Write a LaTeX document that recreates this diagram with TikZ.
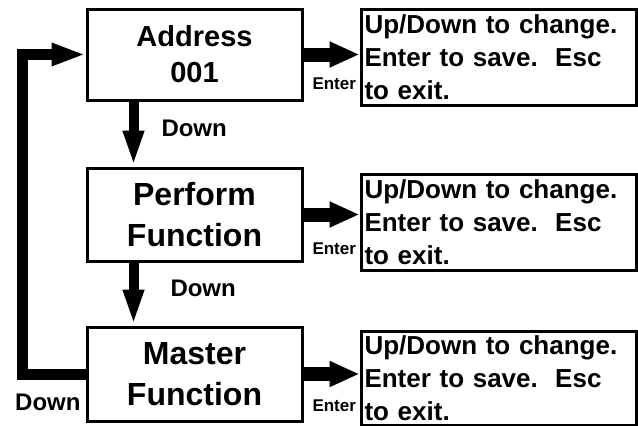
\documentclass[tikz,border=0pt]{standalone}
\usepackage{fontspec}
\setmainfont{Liberation Sans}
\usetikzlibrary{arrows.meta,positioning}

\begin{document}
\begin{tikzpicture}[x=1pt,y=-1pt,
    menubox/.style={draw,line width=3pt,minimum width=215pt,align=center,inner sep=0pt,
        font=\bfseries\fontsize{32}{41}\selectfont},
    hintbox/.style={draw,line width=3pt,minimum width=275pt,text width=268pt,align=left,
        inner xsep=3pt,inner ysep=0pt,font=\bfseries\fontsize{26}{33}\selectfont},
    downarrow/.style={line width=10pt,-{Triangle[length=36pt,width=19pt]}},
    enterarrow/.style={line width=14pt,-{Triangle[length=30pt,width=24pt]}},
    lbl/.style={inner sep=0pt,font=\bfseries\fontsize{24}{28}\selectfont},
    enterlbl/.style={inner sep=0pt,font=\bfseries\fontsize{17}{20}\selectfont}]
    \useasboundingbox (0,0) rectangle (638,426);

    % menu boxes
    \node[menubox,minimum height=91pt,font=\bfseries\fontsize{29}{36}\selectfont] (addr) at (194.5,54.5) {Address\\001};
    \node[menubox,minimum height=93pt] (perf) at (194.5,214.5) {Perform\\Function};
    \node[menubox,minimum height=94pt] (mast) at (194.5,374) {Master\\Function};

    % help texts
    \node[hintbox,minimum height=96pt] (hint1) at (498.5,57) {Up/Down to change.\\Enter to save.~~Esc\\to exit.};
    \node[hintbox,minimum height=96pt] (hint2) at (498.5,222) {Up/Down to change.\\Enter to save.~~Esc\\to exit.};
    \node[hintbox,minimum height=94pt] (hint3) at (498.5,378) {Up/Down to change.\\Enter to save.~~Esc\\to exit.};

    % down arrows
    \draw[downarrow] ([xshift=48pt]addr.south west) -- ([xshift=48pt]perf.north west)
        node[lbl,midway,right=23pt,yshift=6pt] (down1) {Down};
    \draw[downarrow] ([xshift=48pt]perf.south west) -- ([xshift=48pt]mast.north west)
        node[lbl,midway,right=32pt,yshift=6pt] (down2) {Down};

    % back to the top
    \coordinate (loop) at (22,0);
    \draw[line width=11pt,-{Triangle[length=34pt,width=21pt]}] (mast.west) -- (mast.west -| loop)
        -- (addr.west -| loop) -- (addr.west);
    \node[lbl,anchor=west] (down3) at (15,402) {Down};

    % enter arrows
    \draw[enterarrow] (addr.east) -- (addr.east -| hint1.west)
        node[enterlbl,pos=0,below right=16pt and 2pt] (enter1) {Enter};
    \draw[enterarrow] (perf.east) -- (perf.east -| hint2.west)
        node[enterlbl,pos=0,below right=21pt and 2pt] (enter2) {Enter};
    \draw[enterarrow] (mast.east) -- (mast.east -| hint3.west)
        node[enterlbl,pos=0,below right=19pt and 2pt] (enter3) {Enter};
\end{tikzpicture}
\end{document}
